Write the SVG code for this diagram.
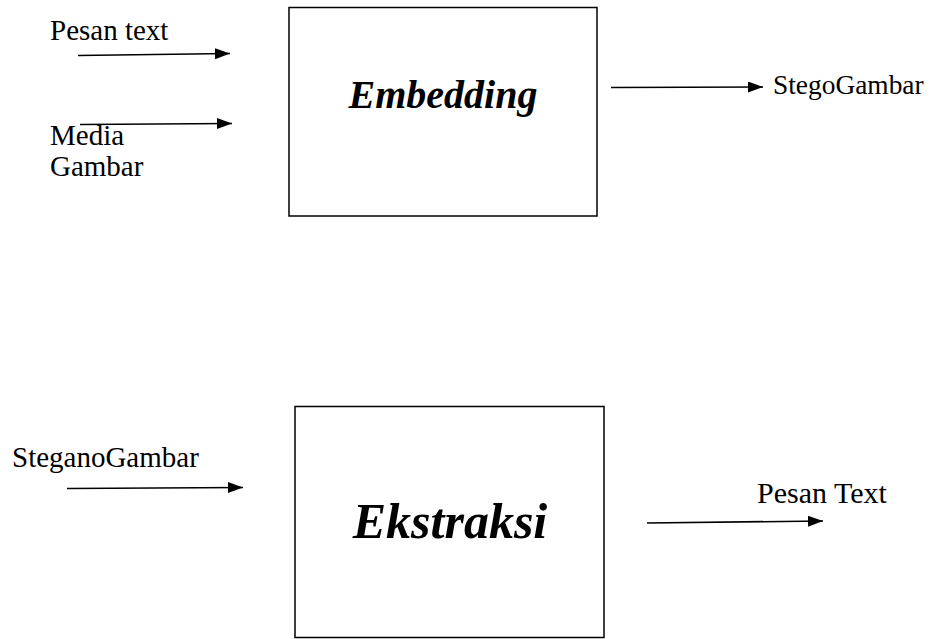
<svg xmlns="http://www.w3.org/2000/svg" width="938" height="639" viewBox="0 0 938 639">
<style>
.box{fill:#fff;stroke:#000;stroke-width:1.5}
.lbl{font-size:29px;fill:#000}
.title{font-weight:bold;font-style:italic;fill:#000;text-anchor:middle}
.conn{stroke:#000;stroke-width:1.6;fill:none;marker-end:url(#ah)}
</style>
<defs>
<marker id="ah" markerUnits="userSpaceOnUse" markerWidth="16" markerHeight="12" refX="15" refY="5.5" orient="auto">
<path d="M0,0 L15,5.5 L0,11 Z" fill="#000"/>
</marker>
</defs>
<rect width="938" height="639" fill="#fff"/>
<g font-family="Liberation Serif, Tinos, DejaVu Serif, serif">
<g id="embedding">
<rect class="box" x="289" y="7.5" width="308" height="208.5"/>
<text class="title" x="443" y="108" font-size="40">Embedding</text>
</g>
<g id="ekstraksi">
<rect class="box" x="295" y="406.5" width="309" height="231"/>
<text class="title" x="450" y="538" font-size="50">Ekstraksi</text>
</g>
<g id="label-pesan-text">
<text class="lbl" x="50" y="40">Pesan text</text>
</g>
<g id="label-media-gambar">
<text class="lbl" x="50" y="145">Media</text>
<text class="lbl" x="50" y="176">Gambar</text>
</g>
<g id="label-stegogambar">
<text class="lbl" x="773" y="94" style="font-size:27.4px">StegoGambar</text>
</g>
<g id="label-steganogambar">
<text class="lbl" x="12" y="467">SteganoGambar</text>
</g>
<g id="label-pesan-text-out">
<text class="lbl" x="757" y="503" style="font-size:30px">Pesan Text</text>
</g>
</g>
<g id="connectors">
<line class="conn" x1="78" y1="55.5" x2="230" y2="53.5"/>
<line class="conn" x1="80" y1="124.5" x2="232" y2="123.5"/>
<line class="conn" x1="611" y1="87.5" x2="763" y2="87"/>
<line class="conn" x1="67" y1="488.5" x2="243" y2="487.5"/>
<line class="conn" x1="647" y1="523" x2="823" y2="521"/>
</g>
</svg>
